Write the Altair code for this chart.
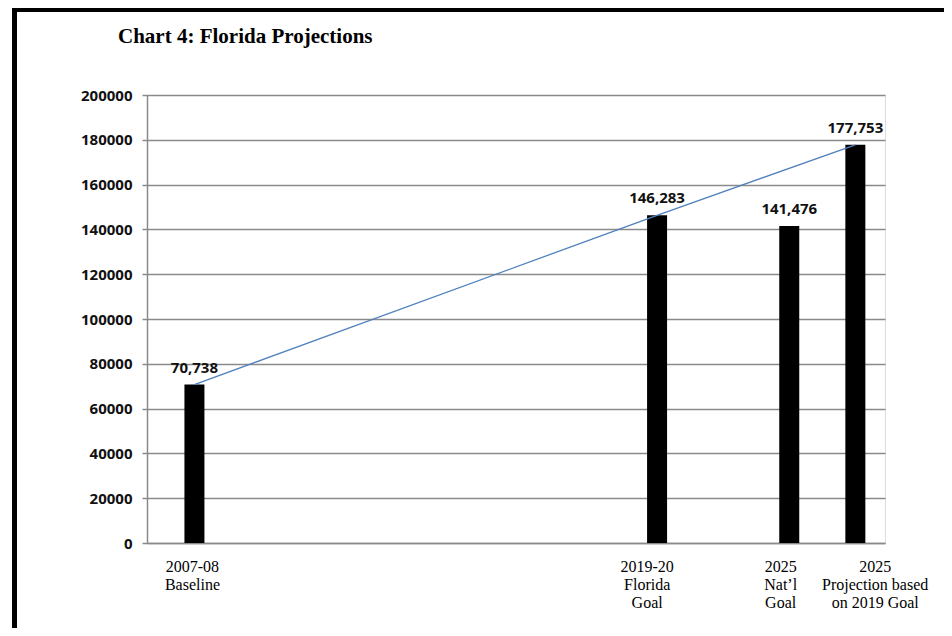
import altair as alt
import pandas as pd

# ---- data ----
categories = ["2007-08 Baseline", "2019-20 Florida Goal", "2025 Nat'l Goal",
              "2025 Projection based on 2019 Goal"]
label_text = ["2007-08\nBaseline",
              "2019-20\nFlorida\nGoal",
              "2025\nNat\u2019l\nGoal",
              "2025\nProjection based\non 2019 Goal"]
slots = [0, 7, 9, 10]                    # category slot along the x axis
label_slots = [-0.03, 6.85, 8.87, 10.3]   # where each category caption sits
values = [70738, 146283, 141476, 177753]
on_trend = [True, True, False, True]     # bars joined by the blue trend line
y_ticks = [0, 20000, 40000, 60000, 80000, 100000, 120000, 140000, 160000, 180000, 200000]

df = pd.DataFrame({"category": categories, "slot": slots, "value": values,
                   "trend": on_trend, "label": label_text, "label_slot": label_slots})

W, H = 738, 448
x_scale = alt.Scale(domain=[-0.642, 10.373], nice=False, zero=False)
y_scale = alt.Scale(domain=[0, 200000], nice=False)

GRID = "#8a8a8a"

base = alt.Chart(df)

bars = base.mark_bar(color="black", size=20).encode(
    x=alt.X("slot:Q", scale=x_scale,
            axis=alt.Axis(values=slots, labels=False, title=None, grid=False,
                          ticks=False, domainColor=GRID, domainWidth=1.5)),
    y=alt.Y("value:Q", scale=y_scale,
            axis=alt.Axis(values=y_ticks, format="d", title=None, grid=True,
                          gridColor=GRID, gridWidth=1.5, domainColor=GRID, domainWidth=1.5,
                          tickColor=GRID, tickWidth=1.5, tickSize=5, labelPadding=10,
                          labelFont="Open Sans", labelFontWeight="bold", labelFontSize=15,
                          labelColor="#111")),
)

trend = base.transform_filter("datum.trend").mark_line(color="#4F81BD", strokeWidth=1.3).encode(
    x=alt.X("slot:Q", scale=x_scale),
    y=alt.Y("value:Q", scale=y_scale),
)

value_labels = base.mark_text(font="Open Sans", fontWeight="bold", fontSize=15, color="#111",
                              baseline="alphabetic", dy=-12).encode(
    x=alt.X("slot:Q", scale=x_scale),
    y=alt.Y("value:Q", scale=y_scale),
    text=alt.Text("value:Q", format=",d"),
)

cat_labels = base.mark_text(font="Liberation Serif", fontSize=16, color="black",
                            baseline="top", align="center", lineBreak="\n",
                            lineHeight=18).encode(
    x=alt.X("label_slot:Q", scale=x_scale),
    y=alt.value(H + 16),
    text="label:N",
)

frame = alt.Chart(alt.Data(values=[{}])).mark_rect(
    fill=None, stroke="black", strokeWidth=5).encode(
    x=alt.value(-132.5), x2=alt.value(W + 300),
    y=alt.value(-85.5), y2=alt.value(H + 300),
)

chart = alt.layer(bars, trend, value_labels, cat_labels, frame).properties(
    width=W, height=H,
    autosize=alt.AutoSizeParams(type="none"),
    padding={"left": 139, "top": 87, "right": 59, "bottom": 85},
    title=alt.TitleParams("Chart 4: Florida Projections", anchor="start", frame="group",
                          font="Liberation Serif", fontWeight="bold", fontSize=21,
                          color="black", baseline="alphabetic", dx=-29, offset=-57),
).configure_view(stroke=None).configure(background="white")

chart.save("out.html", embed_options={"renderer": "svg", "actions": False})
